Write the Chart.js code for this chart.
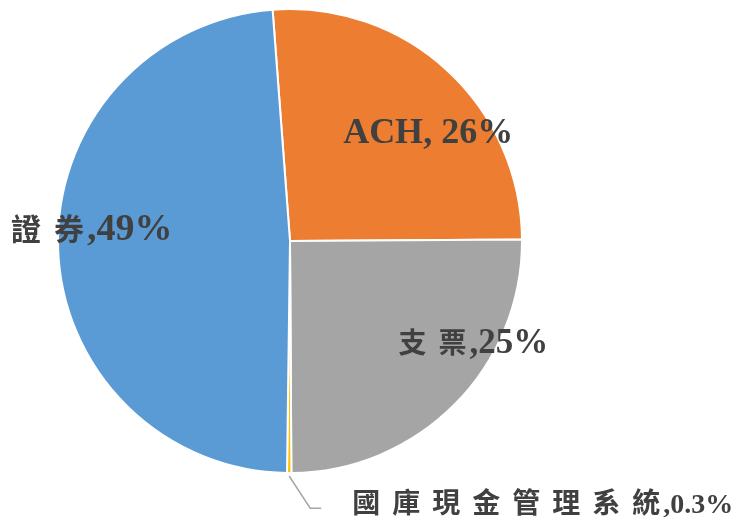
<!DOCTYPE html>
<html>
<head>
<meta charset="utf-8">
<script src="https://cdn.jsdelivr.net/npm/chart.js@4/dist/chart.umd.min.js"></script>
<style>
    html, body { margin: 0; padding: 0; background: #fff; }
    #chart { display: block; }
</style>
</head>
<body>
<canvas id="chart" width="747" height="519"></canvas>
<script>
// slice order follows the picture, clockwise from the top
var categories = ['ACH', '支票', '國庫現金管理系統', '證券'];
var shares = [26.1, 25.0, 0.3, 48.6];
var shareLabels = [' 26%', '25%', '0.3%', '49%'];
var sliceColors = ['#ED7D31', '#A5A5A5', '#FFC000', '#5B9BD5'];

// label placement, in units of the pie radius from its centre (left edge, baseline)
var labelStyle = [
    {dx: 0.229, dy: -0.424, cjk: 30, pitch: 40, latin: 36},
    {dx: 0.468, dy: 0.481, cjk: 28, pitch: 40, latin: 35},
    {dx: 0.268, dy: 1.173, cjk: 28, pitch: 40, latin: 28, leader: true},
    {dx: -1.203, dy: -0.004, cjk: 30, pitch: 43, latin: 38}
];

var textColor = '#404040';
var isCjk = function(ch) {
    return /[\u3000-\u9fff]/.test(ch);
};

var sliceLabels = {
    id: 'sliceLabels',
    afterDatasetsDraw: function(chart) {
        var ctx = chart.ctx;
        var meta = chart.getDatasetMeta(0);
        ctx.save();
        ctx.fillStyle = textColor;
        ctx.textBaseline = 'alphabetic';
        ctx.textAlign = 'left';

        meta.data.forEach(function(arc, i) {
            var p = arc.getProps(['x', 'y', 'startAngle', 'endAngle', 'outerRadius'], true);
            var st = labelStyle[i];
            var x = p.x + st.dx * p.outerRadius;
            var y = p.y + st.dy * p.outerRadius;

            if (st.leader) {
                var mid = (p.startAngle + p.endAngle) / 2;
                var r0 = p.outerRadius + 3;
                ctx.strokeStyle = '#A6A6A6';
                ctx.lineWidth = 1.5;
                ctx.beginPath();
                ctx.moveTo(p.x + Math.cos(mid) * r0, p.y + Math.sin(mid) * r0);
                ctx.lineTo(x - 42, y - 5);
                ctx.lineTo(x - 31, y - 5);
                ctx.stroke();
            }

            // chinese part, spaced out one glyph at a time
            var name = categories[i];
            var cx = x;
            var cjkCount = 0;
            var latinName = '';
            Array.from(name).forEach(function(ch) {
                if (isCjk(ch)) {
                    ctx.font = 'bold ' + st.cjk + 'px "Noto Sans CJK TC"';
                    ctx.fillText(ch, cx, y);
                    cx += st.pitch;
                    cjkCount++;
                } else {
                    latinName += ch;
                }
            });
            if (cjkCount) {
                cx = cx - st.pitch + st.cjk + 3;
            }

            ctx.font = 'bold ' + st.latin + 'px "Liberation Serif", "Times New Roman", serif';
            ctx.fillText(latinName + ',' + shareLabels[i], cx, y);
        });
        ctx.restore();
    }
};

var chart = new Chart(document.getElementById('chart'), {
    type: 'pie',
    data: {
        labels: categories,
        datasets: [{
            data: shares,
            backgroundColor: sliceColors,
            borderColor: '#ffffff',
            borderWidth: 2
        }]
    },
    options: {
        responsive: false,
        animation: false,
        rotation: -4.3,
        layout: {
            padding: {left: 57, right: 224, top: 8, bottom: 45}
        },
        plugins: {
            legend: {display: false},
            tooltip: {enabled: false}
        }
    },
    plugins: [sliceLabels]
});
</script>
</body>
</html>
